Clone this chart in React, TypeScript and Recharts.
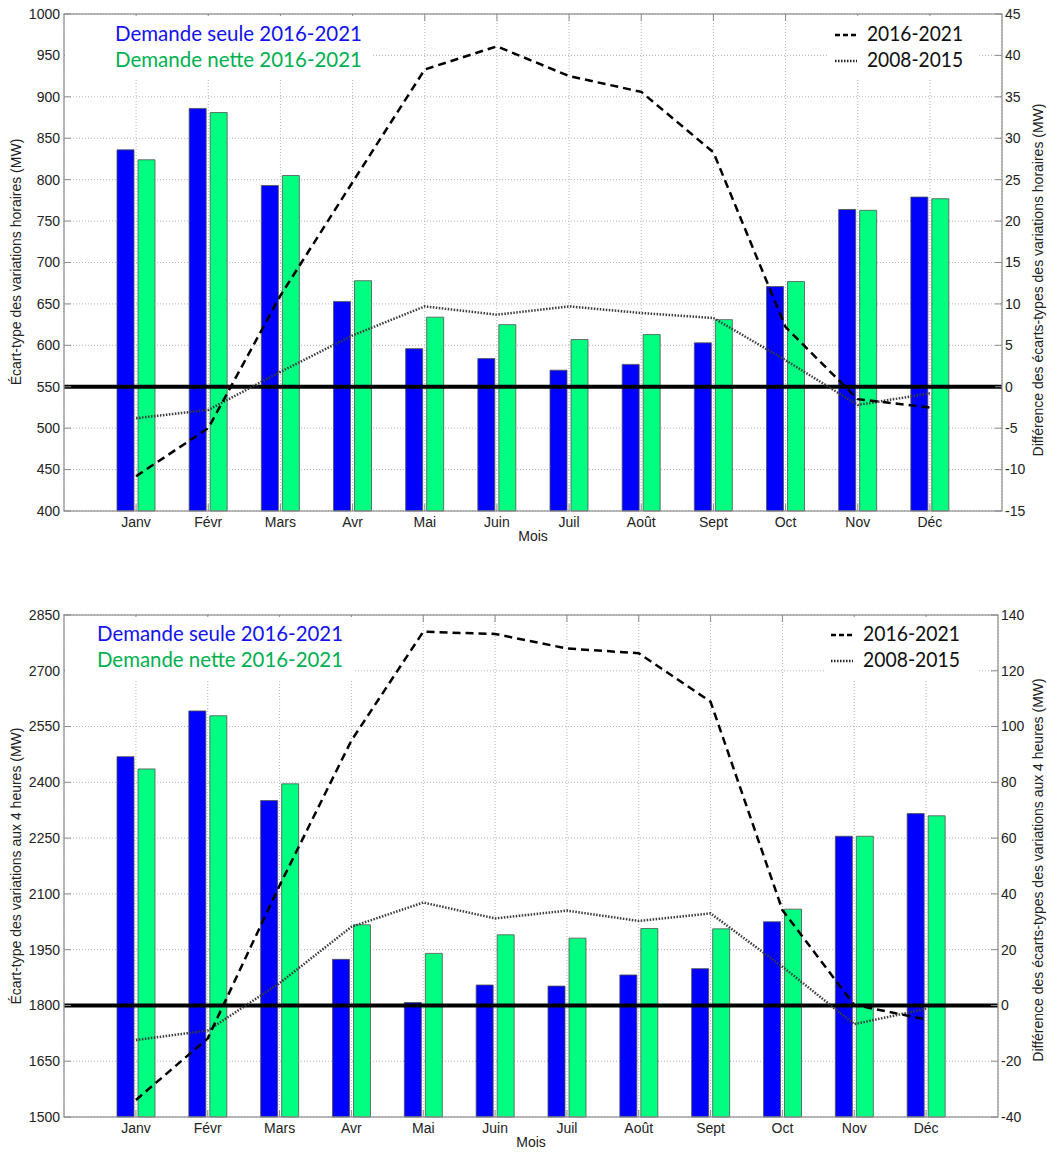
import React from 'react';
import {
  ComposedChart,
  Bar,
  Line,
  XAxis,
  YAxis,
  CartesianGrid,
  ReferenceLine,
} from 'recharts';

const months = ['Janv', 'Févr', 'Mars', 'Avr', 'Mai', 'Juin', 'Juil', 'Août', 'Sept', 'Oct', 'Nov', 'Déc'];

// variations horaires (MW)
const hourlySeule = [836, 886, 793, 653, 596, 584, 570, 577, 603, 671, 764, 779];
const hourlyNette = [824, 881, 805, 678, 634, 625, 607, 613, 631, 677, 763, 777];
const hourlyDiff1621 = [-10.8, -5.0, 11.0, 24.7, 38.3, 41.1, 37.5, 35.6, 28.3, 7.2, -1.5, -2.5];
const hourlyDiff0815 = [-3.8, -2.8, 1.8, 6.2, 9.7, 8.7, 9.7, 8.9, 8.3, 3.2, -2.2, -0.8];
const hourlyLeftTicks = [400, 450, 500, 550, 600, 650, 700, 750, 800, 850, 900, 950, 1000];
const hourlyRightTicks = [-15, -10, -5, 0, 5, 10, 15, 20, 25, 30, 35, 40, 45];

// variations aux 4 heures (MW)
const h4Seule = [2469, 2592, 2351, 1924, 1808, 1855, 1852, 1882, 1899, 2025, 2255, 2316];
const h4Nette = [2436, 2579, 2396, 2017, 1940, 1990, 1981, 2007, 2006, 2059, 2255, 2310];
const h4Diff1621 = [-33.9, -11.8, 43, 95, 134, 133.2, 128, 126.3, 108.9, 34.2, 0.2, -5];
const h4Diff0815 = [-12.4, -9.0, 8.0, 28.2, 36.9, 31.2, 34.0, 30.3, 33.0, 13.9, -6.7, -1.2];
const h4LeftTicks = [1500, 1650, 1800, 1950, 2100, 2250, 2400, 2550, 2700, 2850];
const h4RightTicks = [-40, -20, 0, 20, 40, 60, 80, 100, 120, 140];

const AXIS = '#8c8c8c';
const FONT = '"Liberation Sans", Arial, sans-serif';
const LEGEND_FONT = 'Lato, "Open Sans", sans-serif';

const leftTick = (m: number) => ({ x, y, payload }: any) => (
  <g>
    <line x1={x + m} x2={x + m + 7} y1={y} y2={y} stroke={AXIS} />
    <text x={x} y={y} dy="0.35em" textAnchor="end" fontSize={14} fill="#222" fontFamily={FONT}>
      {payload.value}
    </text>
  </g>
);

const rightTick = (m: number) => ({ x, y, payload }: any) => (
  <g>
    <line x1={x - m} x2={x - m - 7} y1={y} y2={y} stroke={AXIS} />
    <text x={x} y={y} dy="0.35em" textAnchor="start" fontSize={14} fill="#222" fontFamily={FONT}>
      {payload.value}
    </text>
  </g>
);

const bottomTick = (m: number, plotTop: number) => ({ x, y, payload }: any) => (
  <g>
    <line x1={x} x2={x} y1={y - m} y2={y - m - 7} stroke={AXIS} />
    <line x1={x} x2={x} y1={plotTop} y2={plotTop + 7} stroke={AXIS} />
    <text x={x} y={y} dy="0.71em" textAnchor="middle" fontSize={14} fill="#222" fontFamily={FONT}>
      {payload.value}
    </text>
  </g>
);

type PanelProps = {
  top: number;
  height: number;
  plotTop: number;
  plotBottom: number;
  plotRight: number;
  seule: number[];
  nette: number[];
  d1621: number[];
  d0815: number[];
  leftTicks: number[];
  rightTicks: number[];
  leftTitle: string;
  rightTitle: string;
  leftTitleY: number;
  rightTitleY: number;
  legendLeftX: number;
  legendLeftW: number;
  legendRightX: number;
  legendRightW: number;
  legendBoxRight: number;
};

const Panel = (p: PanelProps) => {
  const data = months.map((m, i) => ({
    m,
    seule: p.seule[i],
    nette: p.nette[i],
    d1621: p.d1621[i],
    d0815: p.d0815[i],
  }));
  const lDom: [number, number] = [p.leftTicks[0], p.leftTicks[p.leftTicks.length - 1]];
  const rDom: [number, number] = [p.rightTicks[0], p.rightTicks[p.rightTicks.length - 1]];
  const xAxisH = p.height - p.plotBottom;
  const rightW = 1047 - p.plotRight;
  const midX = (64 + p.plotRight) / 2;

  return (
    <div style={{ position: 'absolute', left: 0, top: p.top, width: 1047, height: p.height }}>
      <ComposedChart
        width={1047}
        height={p.height}
        data={data}
        margin={{ top: p.plotTop, right: 0, left: 0, bottom: 0 }}
        barSize={17}
        barGap={4}
      >
        <CartesianGrid yAxisId="left" stroke="#b4b4b4" strokeDasharray="1 2" />
        <XAxis
          dataKey="m"
          height={xAxisH}
          padding={{ left: 36, right: 36 }}
          axisLine={false}
          tickLine={false}
          tickSize={0}
          tickMargin={6}
          interval={0}
          tick={bottomTick(6, p.plotTop)}
        />
        <YAxis
          yAxisId="left"
          width={64}
          domain={lDom}
          ticks={p.leftTicks}
          axisLine={false}
          tickLine={false}
          tickSize={0}
          tickMargin={4}
          interval={0}
          tick={leftTick(4)}
        />
        <YAxis
          yAxisId="right"
          orientation="right"
          width={rightW}
          domain={rDom}
          ticks={p.rightTicks}
          axisLine={false}
          tickLine={false}
          tickSize={0}
          tickMargin={3}
          interval={0}
          tick={rightTick(3)}
        />
        <Bar yAxisId="left" dataKey="seule" fill="#0000FF" stroke="#505050" strokeWidth={0.8} isAnimationActive={false} />
        <Bar yAxisId="left" dataKey="nette" fill="#00FF80" stroke="#505050" strokeWidth={0.8} isAnimationActive={false} />
        <ReferenceLine yAxisId="right" y={0} stroke="#000" strokeWidth={4} />
        <Line
          yAxisId="right"
          dataKey="d0815"
          stroke="#3a3a3a"
          strokeWidth={2.5}
          strokeDasharray="1.5 1.5"
          dot={false}
          isAnimationActive={false}
        />
        <Line
          yAxisId="right"
          dataKey="d1621"
          stroke="#000"
          strokeWidth={2.5}
          strokeDasharray="8 5"
          dot={false}
          isAnimationActive={false}
        />
      </ComposedChart>

      <svg
        width={1047}
        height={p.height}
        style={{ position: 'absolute', left: 0, top: 0, pointerEvents: 'none' }}
      >
        <rect x={65} y={p.plotTop + 2} width={p.legendLeftX + p.legendLeftW + 10 - 65} height={64} fill="#fff" />
        <rect x={p.legendRightX - 38} y={p.plotTop + 2} width={p.legendBoxRight - p.legendRightX + 38} height={64} fill="#fff" />
        <rect
          x={64}
          y={p.plotTop}
          width={p.plotRight - 64}
          height={p.plotBottom - p.plotTop}
          fill="none"
          stroke={AXIS}
          strokeWidth={1.2}
        />
        <text x={p.legendLeftX} y={41} fontSize={21} fill="#1212EE" fontFamily={LEGEND_FONT} textLength={p.legendLeftW} lengthAdjust="spacingAndGlyphs">
          Demande seule 2016-2021
        </text>
        <text x={p.legendLeftX} y={67} fontSize={21} fill="#00B050" fontFamily={LEGEND_FONT} textLength={p.legendLeftW} lengthAdjust="spacingAndGlyphs">
          Demande nette 2016-2021
        </text>
        <line x1={p.legendRightX - 32} x2={p.legendRightX - 10} y1={35} y2={35} stroke="#000" strokeWidth={2.5} strokeDasharray="5 3" />
        <line x1={p.legendRightX - 32} x2={p.legendRightX - 10} y1={61} y2={61} stroke="#222" strokeWidth={2.5} strokeDasharray="1.5 1.5" />
        <text x={p.legendRightX} y={41} fontSize={21} fill="#111" fontFamily={LEGEND_FONT} textLength={p.legendRightW} lengthAdjust="spacingAndGlyphs">
          2016-2021
        </text>
        <text x={p.legendRightX} y={67} fontSize={21} fill="#111" fontFamily={LEGEND_FONT} textLength={p.legendRightW} lengthAdjust="spacingAndGlyphs">
          2008-2015
        </text>
        <text transform={`translate(21,${p.leftTitleY}) rotate(-90)`} textAnchor="middle" fontSize={14} fill="#222" fontFamily={FONT}>
          {p.leftTitle}
        </text>
        <text transform={`translate(1043,${p.rightTitleY}) rotate(-90)`} textAnchor="middle" fontSize={14} fill="#222" fontFamily={FONT}>
          {p.rightTitle}
        </text>
        <text x={midX} y={p.plotBottom + 30} textAnchor="middle" fontSize={14} fill="#222" fontFamily={FONT}>
          Mois
        </text>
      </svg>
    </div>
  );
};

export default function App() {
  return (
    <div style={{ position: 'absolute', left: 0, top: 0, width: 1047, height: 1152, background: '#fff' }}>
      <Panel
        top={0}
        height={560}
        plotTop={14}
        plotBottom={511}
        plotRight={1002}
        seule={hourlySeule}
        nette={hourlyNette}
        d1621={hourlyDiff1621}
        d0815={hourlyDiff0815}
        leftTicks={hourlyLeftTicks}
        rightTicks={hourlyRightTicks}
        leftTitle="Écart-type des variations horaires (MW)"
        rightTitle="Différence des écarts-types des variations horaires (MW)"
        leftTitleY={262}
        rightTitleY={280}
        legendLeftX={115}
        legendLeftW={247}
        legendRightX={867}
        legendRightW={96}
        legendBoxRight={977}
      />
      <Panel
        top={600}
        height={552}
        plotTop={15}
        plotBottom={517}
        plotRight={998}
        seule={h4Seule}
        nette={h4Nette}
        d1621={h4Diff1621}
        d0815={h4Diff0815}
        leftTicks={h4LeftTicks}
        rightTicks={h4RightTicks}
        leftTitle="Écart-type des variations aux 4 heures (MW)"
        rightTitle="Différence des écarts-types des variations aux 4 heures (MW)"
        leftTitleY={266}
        rightTitleY={270}
        legendLeftX={97}
        legendLeftW={246}
        legendRightX={863}
        legendRightW={97}
        legendBoxRight={977}
      />
    </div>
  );
}
